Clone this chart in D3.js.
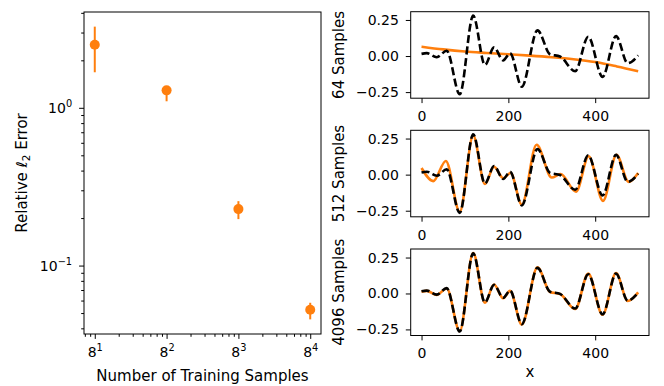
<!DOCTYPE html>
<html>
<head>
<meta charset="utf-8">
<script src="https://cdn.jsdelivr.net/npm/d3@7"></script>
<style>
body { margin: 0; background: #fff; }
text { font-family: "DejaVu Sans", sans-serif; fill: #000; }
</style>
</head>
<body>
<svg id="chart" width="664" height="386"></svg>
<script>
// ---- values ----
var sampleCounts = [8, 64, 512, 4096];
var sampleExps = ['1', '2', '3', '4'];
var errMean = [2.51, 1.29, 0.228, 0.0525];
var errLow = [1.68, 1.10, 0.197, 0.0456];
var errHigh = [3.27, 1.35, 0.256, 0.0581];

var panelNames = ['64 Samples', '512 Samples', '4096 Samples'];
var rightXTicks = [0, 200, 400];
var rightYTicks = [-0.25, 0, 0.25];

// true function (black dashed)
var truthX = [0, 12, 35, 58, 88, 119, 146, 167, 188, 204, 231, 267, 296, 319, 354, 384, 417, 448, 475, 499];
var truthY = [0.015, 0.02, -0.008, 0.037, -0.265, 0.28, -0.062, 0.06, -0.03, 0.02, -0.213, 0.178, 0.012, -0.003, -0.105, 0.134, -0.145, 0.138, -0.05, 0.005];

// predictions (orange)
var pred64X = [0, 50, 100, 150, 200, 250, 300, 350, 400, 450, 499];
var pred64Y = [0.065, 0.046, 0.031, 0.021, 0.012, 0.003, -0.008, -0.022, -0.042, -0.072, -0.105];

var pred512X = [0, 27, 56, 88, 119, 146, 167, 188, 205, 231, 265, 300, 320, 356, 385, 418, 449, 477, 499];
var pred512Y = [0.046, -0.045, 0.095, -0.258, 0.27, -0.065, 0.055, -0.025, 0.012, -0.208, 0.207, -0.02, 0.004, -0.118, 0.127, -0.182, 0.137, -0.05, 0.012];

var pred4096X = [0, 12, 35, 58, 88, 119, 146, 167, 188, 204, 231, 267, 296, 319, 354, 384, 417, 448, 475, 499];
var pred4096Y = [0.012, 0.018, -0.01, 0.035, -0.262, 0.282, -0.065, 0.062, -0.033, 0.018, -0.216, 0.182, 0.01, -0.004, -0.108, 0.138, -0.148, 0.142, -0.052, 0.008];

var ORANGE = '#ff7f0e';
var FONT = 14;
var LABEL_FONT = 15;

var svg = d3.select('#chart');

function styleAxis(g) {
    g.select('.domain').remove();
    g.attr('font-size', FONT).attr('font-family', '"DejaVu Sans", sans-serif');
    g.selectAll('line').attr('stroke', '#000').attr('stroke-width', 1);
    g.selectAll('text').attr('fill', '#000');
}

function isDecade(v, base) {
    var e = Math.log(v) / Math.log(base);
    return Math.abs(e - Math.round(e)) < 1e-6;
}

// ---------- left panel: error vs samples ----------
var L = { x0: 84, x1: 321, y0: 12, y1: 334 };

var lx = Math.log(d3.min(sampleCounts)) / Math.log(8);
var hx = Math.log(d3.max(sampleCounts)) / Math.log(8);
var px = (hx - lx) * 0.05;
var xScale = d3.scaleLog().base(8)
    .domain([Math.pow(8, lx - px), Math.pow(8, hx + px)])
    .range([L.x0, L.x1]);

var ly = Math.log10(d3.min(errLow));
var hy = Math.log10(d3.max(errHigh));
var py = (hy - ly) * 0.05;
var yScale = d3.scaleLog()
    .domain([Math.pow(10, ly - py), Math.pow(10, hy + py)])
    .range([L.y1, L.y0]);

var xMinor = xScale.ticks().filter(function(d) { return sampleCounts.indexOf(d) < 0; });
svg.append('g')
    .attr('transform', 'translate(0,' + L.y1 + ')')
    .call(d3.axisBottom(xScale).tickValues(xMinor).tickFormat('').tickSize(2.8).tickSizeOuter(0))
    .call(styleAxis);

var gx = svg.append('g')
    .attr('transform', 'translate(0,' + L.y1 + ')')
    .call(d3.axisBottom(xScale).tickValues(sampleCounts).tickFormat('').tickSize(4.9).tickPadding(8).tickSizeOuter(0))
    .call(styleAxis);
gx.selectAll('.tick text').each(function(d, i) {
    var t = d3.select(this);
    t.append('tspan').text('8');
    t.append('tspan').attr('font-size', '0.7em').attr('dy', '-0.6em').text(sampleExps[i]);
});

var yAll = yScale.ticks();
var yMajor = yAll.filter(function(d) { return isDecade(d, 10); });
var yMinor = yAll.filter(function(d) { return !isDecade(d, 10); });
svg.append('g')
    .attr('transform', 'translate(' + L.x0 + ',0)')
    .call(d3.axisLeft(yScale).tickValues(yMinor).tickFormat('').tickSize(2.8).tickSizeOuter(0))
    .call(styleAxis);
var gy = svg.append('g')
    .attr('transform', 'translate(' + L.x0 + ',0)')
    .call(d3.axisLeft(yScale).tickValues(yMajor).tickFormat('').tickSize(4.9).tickPadding(7).tickSizeOuter(0))
    .call(styleAxis);
gy.selectAll('.tick text').each(function(d) {
    var t = d3.select(this);
    var e = Math.round(Math.log10(d));
    t.append('tspan').text('10');
    t.append('tspan').attr('font-size', '0.7em').attr('dy', '-0.6em')
        .text(e < 0 ? '\u2212' + (-e) : String(e));
});

// error bars + markers
var pts = svg.append('g');
pts.selectAll('line.err')
    .data(sampleCounts)
    .enter().append('line')
    .attr('x1', function(d) { return xScale(d); })
    .attr('x2', function(d) { return xScale(d); })
    .attr('y1', function(d, i) { return yScale(errLow[i]); })
    .attr('y2', function(d, i) { return yScale(errHigh[i]); })
    .attr('stroke', ORANGE)
    .attr('stroke-width', 2);
pts.selectAll('circle')
    .data(sampleCounts)
    .enter().append('circle')
    .attr('cx', function(d) { return xScale(d); })
    .attr('cy', function(d, i) { return yScale(errMean[i]); })
    .attr('r', 5)
    .attr('fill', ORANGE);

svg.append('rect')
    .attr('x', L.x0).attr('y', L.y0)
    .attr('width', L.x1 - L.x0).attr('height', L.y1 - L.y0)
    .attr('fill', 'none').attr('stroke', '#000').attr('stroke-width', 1);

var ylab = svg.append('text')
    .attr('transform', 'translate(27,' + (L.y0 + L.y1) / 2 + ') rotate(-90)')
    .attr('text-anchor', 'middle')
    .attr('font-size', LABEL_FONT);
ylab.append('tspan').text('Relative ');
ylab.append('tspan').attr('font-style', 'italic').text('\u2113');
ylab.append('tspan').attr('font-size', '0.7em').attr('dy', 3).text('2');
ylab.append('tspan').attr('dy', -3).text(' Error');

svg.append('text')
    .attr('x', (L.x0 + L.x1) / 2).attr('y', 381)
    .attr('text-anchor', 'middle')
    .attr('font-size', LABEL_FONT)
    .text('Number of Training Samples');

// ---------- right panels: function fits ----------
var R = { x0: 410.7, x1: 649, h: 86.5 };
var tops = [11.7, 130.3, 249];
var preds = [[pred64X, pred64Y], [pred512X, pred512Y], [pred4096X, pred4096Y]];

var xPad = (d3.max(truthX) - d3.min(truthX)) * 0.05;
var fx = d3.scaleLinear()
    .domain([d3.min(truthX) - xPad, d3.max(truthX) + xPad])
    .range([R.x0, R.x1]);

preds.forEach(function(p, i) {
    var top = tops[i];
    var allY = truthY.concat(p[1]);
    var lo = d3.min(allY), hi = d3.max(allY);
    var pad = (hi - lo) * 0.05;
    var fy = d3.scaleLinear().domain([lo - pad, hi + pad]).range([top + R.h, top]);

    var line = d3.line()
        .x(function(d) { return fx(d[0]); })
        .y(function(d) { return fy(d[1]); })
        .curve(d3.curveMonotoneX);

    svg.append('path')
        .datum(d3.zip(p[0], p[1]))
        .attr('d', line)
        .attr('fill', 'none')
        .attr('stroke', ORANGE)
        .attr('stroke-width', 2.6);

    svg.append('path')
        .datum(d3.zip(truthX, truthY))
        .attr('d', line)
        .attr('fill', 'none')
        .attr('stroke', '#000')
        .attr('stroke-width', 2.6)
        .attr('stroke-dasharray', '8,3.5');

    svg.append('g')
        .attr('transform', 'translate(0,' + (top + R.h) + ')')
        .call(d3.axisBottom(fx).tickValues(rightXTicks).tickSize(4.9).tickPadding(8).tickSizeOuter(0))
        .call(styleAxis);

    svg.append('g')
        .attr('transform', 'translate(' + R.x0 + ',0)')
        .call(d3.axisLeft(fy).tickValues(rightYTicks).tickFormat(d3.format('.2f')).tickSize(4.9).tickPadding(7).tickSizeOuter(0))
        .call(styleAxis);

    svg.append('rect')
        .attr('x', R.x0).attr('y', top)
        .attr('width', R.x1 - R.x0).attr('height', R.h)
        .attr('fill', 'none').attr('stroke', '#000').attr('stroke-width', 1);

    svg.append('text')
        .attr('transform', 'translate(344,' + (top + R.h / 2) + ') rotate(-90)')
        .attr('text-anchor', 'middle')
        .attr('font-size', LABEL_FONT)
        .text(panelNames[i]);
});

svg.append('text')
    .attr('x', (R.x0 + R.x1) / 2).attr('y', 377)
    .attr('text-anchor', 'middle')
    .attr('font-size', LABEL_FONT)
    .text('x');
</script>
</body>
</html>
